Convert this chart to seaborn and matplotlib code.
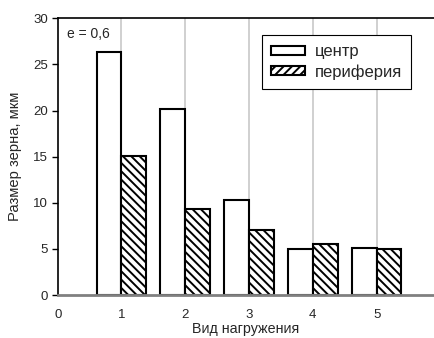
import matplotlib
matplotlib.use("Agg")
import matplotlib.pyplot as plt
import matplotlib.patches as mpatches
import seaborn as sns
import pandas as pd

loading_types = [1, 2, 3, 4, 5]
center_vals = [26.3, 20.2, 10.3, 5.0, 5.15]
periphery_vals = [15.1, 9.3, 7.1, 5.5, 4.95]
series_names = ["центр", "периферия"]
x_ticks = [0, 1, 2, 3, 4, 5]
y_ticks = [0, 5, 10, 15, 20, 25, 30]

df = pd.DataFrame({
    "x": loading_types * 2,
    "y": center_vals + periphery_vals,
    "series": [series_names[0]] * 5 + [series_names[1]] * 5,
})

sns.set_style("white")
plt.rcParams["font.family"] = ["Liberation Sans", "DejaVu Sans"]
plt.rcParams["hatch.linewidth"] = 1.4

fig = plt.figure(figsize=(4.34, 3.38), dpi=100)
ax = fig.add_axes([0.133, 0.127, 0.867, 0.819])

sns.barplot(data=df, x="x", y="y", hue="series", native_scale=True,
            palette=["white", "white"], width=0.78, edgecolor="black",
            linewidth=1.5, ax=ax, legend=False, zorder=3)

n = len(loading_types)
for i, p in enumerate(ax.patches):
    if i >= n:
        p.set_hatch("\\\\\\\\")

ax.set_xlim(0, 5.9)
ax.set_ylim(0, 30)
ax.set_xticks(x_ticks)
ax.set_yticks(y_ticks)
ax.set_xticklabels([str(t) for t in x_ticks], fontsize=9.5)
ax.set_yticklabels([str(t) for t in y_ticks], fontsize=9.5)
for xv in loading_types:
    ax.axvline(xv, color="#c8c8c8", lw=1.2, zorder=0)

ax.spines["right"].set_visible(False)
ax.spines["top"].set_color("black")
ax.spines["top"].set_linewidth(1.2)
ax.spines["left"].set_color("black")
ax.spines["left"].set_linewidth(1.2)
ax.spines["bottom"].set_color("#808080")
ax.spines["bottom"].set_linewidth(2)
ax.spines["bottom"].set_zorder(5)
ax.tick_params(axis="y", length=4, width=1, color="black", pad=3, left=True)
ax.tick_params(axis="x", length=0, pad=10)

ax.set_xlabel("Вид нагружения", fontsize=10.3, labelpad=1)
ax.set_ylabel("Размер зерна, мкм", fontsize=10.6, labelpad=8)

ax.text(0.15, 28.3, "e = 0,6", fontsize=10, va="center", ha="left")

handles = [
    mpatches.Patch(facecolor="white", edgecolor="black", linewidth=1.5, label=series_names[0]),
    mpatches.Patch(facecolor="white", edgecolor="black", linewidth=1.5, hatch="////", label=series_names[1]),
]
leg = ax.legend(handles=handles, loc="upper left", bbox_to_anchor=(0.543, 0.94),
                fontsize=12, frameon=True, fancybox=False, edgecolor="black",
                framealpha=1, borderpad=0.55, handlelength=2.0, handleheight=0.45,
                handletextpad=0.6, labelspacing=0.3, borderaxespad=0)
leg.get_frame().set_linewidth(0.8)

fig.savefig("out.png", dpi=100)
